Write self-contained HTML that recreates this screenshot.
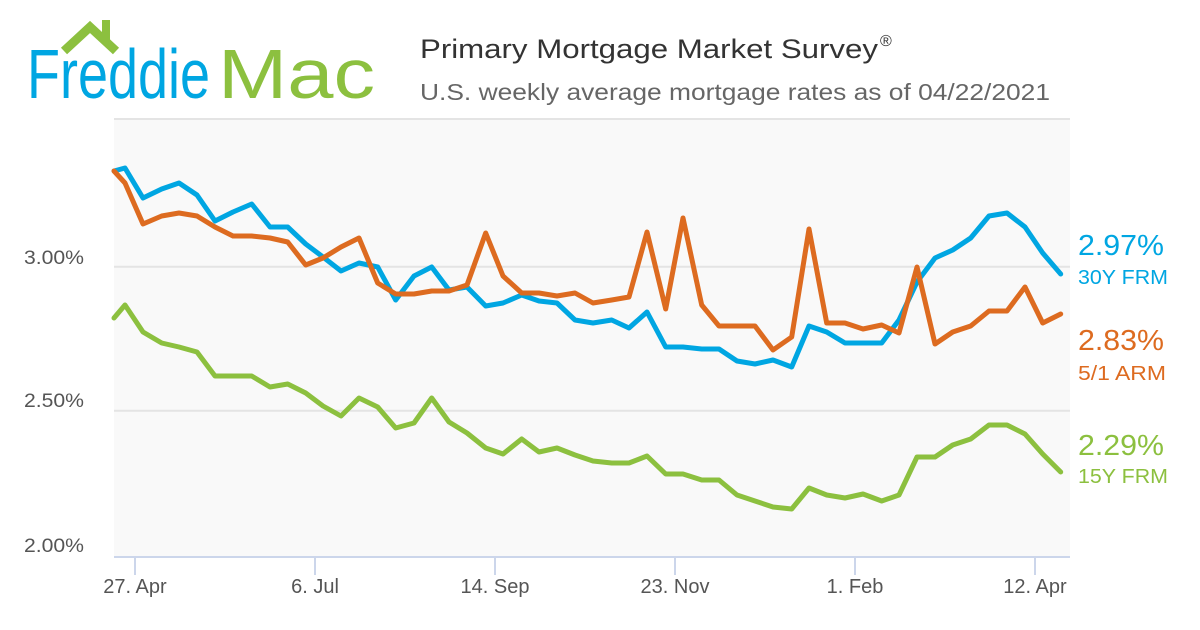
<!DOCTYPE html>
<html><head><meta charset="utf-8"><style>
html,body{margin:0;padding:0;background:#fff;}
svg{display:block;font-family:"Liberation Sans",sans-serif;}
</style></head><body>
<svg width="1200" height="630" viewBox="0 0 1200 630" xmlns="http://www.w3.org/2000/svg">
<rect width="1200" height="630" fill="#fff"/>
<!-- logo -->
<polyline points="64,51 90,27 116,51" fill="none" stroke="#8cc03f" stroke-width="9" stroke-linejoin="miter"/>
<rect x="102" y="20" width="8" height="20" fill="#8cc03f"/>
<text x="27" y="98" font-size="70" fill="#00a6e2" textLength="183" lengthAdjust="spacingAndGlyphs">Freddie</text>
<text x="218" y="98" font-size="70" fill="#8cc03f" textLength="157" lengthAdjust="spacingAndGlyphs">Mac</text>
<!-- titles -->
<text x="420" y="58" font-size="27" fill="#333" textLength="458" lengthAdjust="spacingAndGlyphs">Primary Mortgage Market Survey</text>
<text x="880" y="46" font-size="16" fill="#333">®</text>
<text x="420" y="100" font-size="23" fill="#666" textLength="630" lengthAdjust="spacingAndGlyphs">U.S. weekly average mortgage rates as of 04/22/2021</text>
<!-- plot -->
<rect x="114" y="118" width="956" height="439" fill="#f9f9f9"/>
<line x1="114" y1="119" x2="1070" y2="119" stroke="#e4e4e4" stroke-width="2"/>
<line x1="114" y1="266.7" x2="1070" y2="266.7" stroke="#e4e4e4" stroke-width="2"/>
<line x1="114" y1="410.7" x2="1070" y2="410.7" stroke="#e4e4e4" stroke-width="2"/>
<line x1="114" y1="557" x2="1070" y2="557" stroke="#ccd6eb" stroke-width="2"/>
<g stroke="#ccd6eb" stroke-width="2">
<line x1="135" y1="557" x2="135" y2="575"/><line x1="315" y1="557" x2="315" y2="575"/><line x1="495" y1="557" x2="495" y2="575"/><line x1="675" y1="557" x2="675" y2="575"/><line x1="855" y1="557" x2="855" y2="575"/><line x1="1035" y1="557" x2="1035" y2="575"/>
</g>
<g font-size="20" fill="#555" text-anchor="middle">
<text x="135" y="593">27. Apr</text><text x="315" y="593">6. Jul</text><text x="495" y="593">14. Sep</text><text x="675" y="593">23. Nov</text><text x="855" y="593">1. Feb</text><text x="1035" y="593">12. Apr</text>
</g>
<g font-size="19" fill="#555">
<text x="24" y="264" textLength="60" lengthAdjust="spacingAndGlyphs">3.00%</text><text x="24" y="407" textLength="60" lengthAdjust="spacingAndGlyphs">2.50%</text><text x="24" y="552" textLength="60" lengthAdjust="spacingAndGlyphs">2.00%</text>
</g>
<g fill="none" stroke-width="5" stroke-linejoin="round" stroke-linecap="round">
<polyline stroke="#8cc03f" points="114,318 125,305 143,332 161.7,343 179,347 197,352 215,376 233,376 251.7,376 270,387 287.7,384 305.7,393 323,406 341,416 359,398 377.7,407 395.7,428 414,423 431.7,398 449,422 467,433 485.7,448 503,454 521.7,439 539,452 557,448 575,455 593,461 611.7,463 629,463 647,456 665.7,474 683,474 701.7,480 719,480 737,495 755,501 773,507 791.7,509 809,488 826.7,495 845,498 863,494 881.7,501 899,495 917,457 935,457 952.7,445 970.7,439 989,425 1007,425 1025,434 1042.7,454 1060.7,472"/>
<polyline stroke="#00a6e2" points="114,171 125,168 143,198 161.7,189 179,183 197,195 215,221 233,212 251.7,204 270,227 287.7,227 305.7,244 323,257 341,271 359,263 377.7,267 395.7,300 414,276 431.7,267 449,290 467,287 485.7,306 503,303 521.7,295 539,301 557,303 575,320 593,323 611.7,320 629,328 647,312 665.7,347 683,347 701.7,349 719,349 737,361 755,364 773,360 791.7,367 809,326 826.7,332 845,343 863,343 881.7,343 899,320 917,282 935,258 952.7,250 970.7,238 989,216 1007,213 1025,227 1042.7,253 1060.7,274"/>
<polyline stroke="#dd6b20" points="114,171 125,183 143,224 161.7,216 179,213 197,216 215,227 233,236 251.7,236 270,238 287.7,242 305.7,265 323,258 341,247 359,238 377.7,283 395.7,294 414,294 431.7,291 449,291 467,285 485.7,233 503,276 521.7,293 539,293 557,296 575,293 593,303 611.7,300 629,297 647,232 665.7,309 683,218 701.7,305 719,326 737,326 755,326 773,350 791.7,337 809,229 826.7,323 845,323 863,329 881.7,325 899,333 917,267 935,344 952.7,332 970.7,326 989,311 1007,311 1025,287 1042.7,323 1060.7,314"/>
</g>
<text x="1078" y="255" font-size="29" fill="#00a6e2" textLength="86" lengthAdjust="spacingAndGlyphs">2.97%</text>
<text x="1078" y="284" font-size="20" fill="#00a6e2" textLength="90" lengthAdjust="spacingAndGlyphs">30Y FRM</text>
<text x="1078" y="350" font-size="29" fill="#dd6b20" textLength="86" lengthAdjust="spacingAndGlyphs">2.83%</text>
<text x="1078" y="380" font-size="20" fill="#dd6b20" textLength="88" lengthAdjust="spacingAndGlyphs">5/1 ARM</text>
<text x="1078" y="455" font-size="29" fill="#8cc03f" textLength="86" lengthAdjust="spacingAndGlyphs">2.29%</text>
<text x="1078" y="483" font-size="20" fill="#8cc03f" textLength="90" lengthAdjust="spacingAndGlyphs">15Y FRM</text>
</svg>
</body></html>
